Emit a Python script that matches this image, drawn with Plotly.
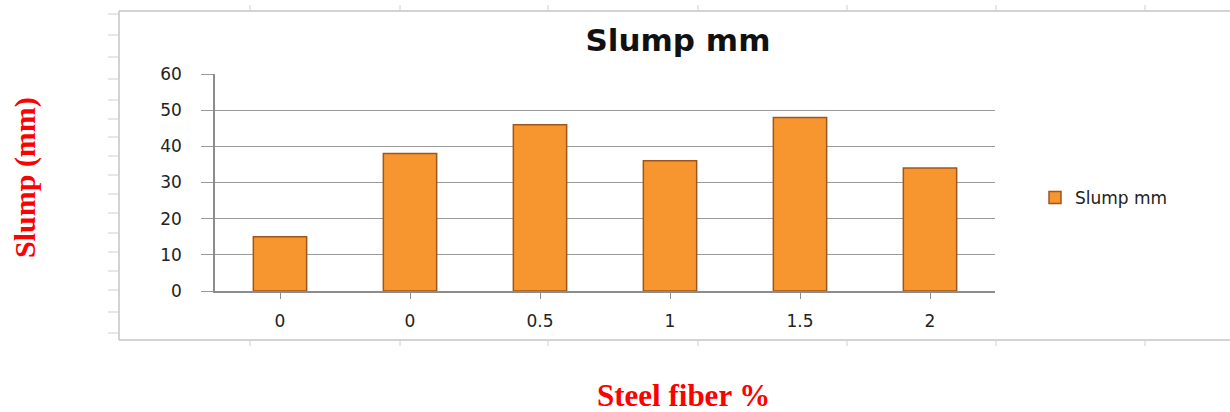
import plotly.graph_objects as go

W, H = 1230, 412
categories = ["0", "0", "0.5", "1", "1.5", "2"]
slump_mm = [15, 38, 46, 36, 48, 34]
y_ticks = [0, 10, 20, 30, 40, 50, 60]
series_name = "Slump mm"

def px(x):
    return x / W

def py(y):
    return 1 - y / H

positions = list(range(len(categories)))

fig = go.Figure()
fig.add_trace(go.Bar(
    x=positions, y=slump_mm, name=series_name,
    marker=dict(color="#F7962F", line=dict(color="#9E561C", width=1.5)),
    width=0.41, showlegend=True,
))

shapes = []
frame = dict(type="line", xref="paper", yref="paper", line=dict(color="#C4C4C4", width=1.5))
shapes.append({**frame, "x0": px(119), "x1": px(119), "y0": py(11), "y1": py(340)})
shapes.append({**frame, "x0": px(119), "x1": px(1232), "y0": py(11), "y1": py(11)})
shapes.append({**frame, "x0": px(119), "x1": px(1232), "y0": py(340), "y1": py(340)})
tick = dict(type="line", xref="paper", yref="paper", line=dict(color="#D0D0D0", width=1))
for yy in [14, 35, 57, 79, 100, 119, 137, 156, 175, 194, 213, 233, 252, 271, 290, 312, 333]:
    shapes.append({**tick, "x0": px(108), "x1": px(119), "y0": py(yy), "y1": py(yy)})
for xx in [250, 400, 548, 698, 847, 996, 1145]:
    shapes.append({**tick, "x0": px(xx), "x1": px(xx), "y0": py(340), "y1": py(346)})
    shapes.append({**tick, "x0": px(xx), "x1": px(xx), "y0": py(5), "y1": py(11)})

fig.update_layout(
    template="none",
    width=W, height=H,
    autosize=False,
    margin=dict(l=0, r=0, t=0, b=0, pad=0),
    paper_bgcolor="white", plot_bgcolor="white",
    font=dict(family="DejaVu Sans", size=13, color="#222222"),
    bargap=0.59,
    shapes=shapes,
    title=dict(text="<b>Slump mm</b>", x=px(678), y=py(40), xanchor="center", yanchor="middle",
               xref="paper", yref="paper",
               font=dict(family="DejaVu Sans", size=31, color="#111111")),
    xaxis=dict(
        domain=[px(215), px(995)],
        range=[-0.5, len(categories) - 0.5],
        tickmode="array", tickvals=positions, ticktext=categories,
        showgrid=False, showline=True, linecolor="#8C8C8C", linewidth=1.5,
        ticks="outside", tickson="boundaries", ticklen=6, tickcolor="#8C8C8C",
        tickfont=dict(family="DejaVu Sans", size=17, color="#222222"),
        ticklabelstandoff=8,
        zeroline=False, fixedrange=True, automargin=False,
    ),
    yaxis=dict(
        domain=[py(291), py(74)],
        range=[0, 60],
        tickmode="array", tickvals=y_ticks,
        showgrid=True, gridcolor="#9A9A9A", gridwidth=1,
        showline=True, linecolor="#8C8C8C", linewidth=1.5,
        ticks="outside", ticklen=12, tickcolor="#9A9A9A",
        tickfont=dict(family="DejaVu Sans", size=17, color="#222222"),
        ticklabelstandoff=16,
        zeroline=False, fixedrange=True, automargin=False,
    ),
    legend=dict(x=px(1035), y=py(198), xanchor="left", yanchor="middle",
                font=dict(family="DejaVu Sans", size=17, color="#222222"),
                bgcolor="rgba(0,0,0,0)", borderwidth=0, itemwidth=30),
    annotations=[
        dict(text="<b>Slump (mm)</b>", xref="paper", yref="paper", x=px(25), y=py(178),
             xanchor="center", yanchor="middle", textangle=-90, showarrow=False,
             font=dict(family="Liberation Serif", size=30, color="#FF0000")),
        dict(text="<b>Steel fiber %</b>", xref="paper", yref="paper", x=px(683), y=py(395),
             xanchor="center", yanchor="middle", showarrow=False,
             font=dict(family="Liberation Serif", size=31, color="#FF0000")),
    ],
)

fig.write_html("out.html", config={"displayModeBar": False},
               post_script="document.body.style.margin='0';document.body.style.overflow='hidden';")
